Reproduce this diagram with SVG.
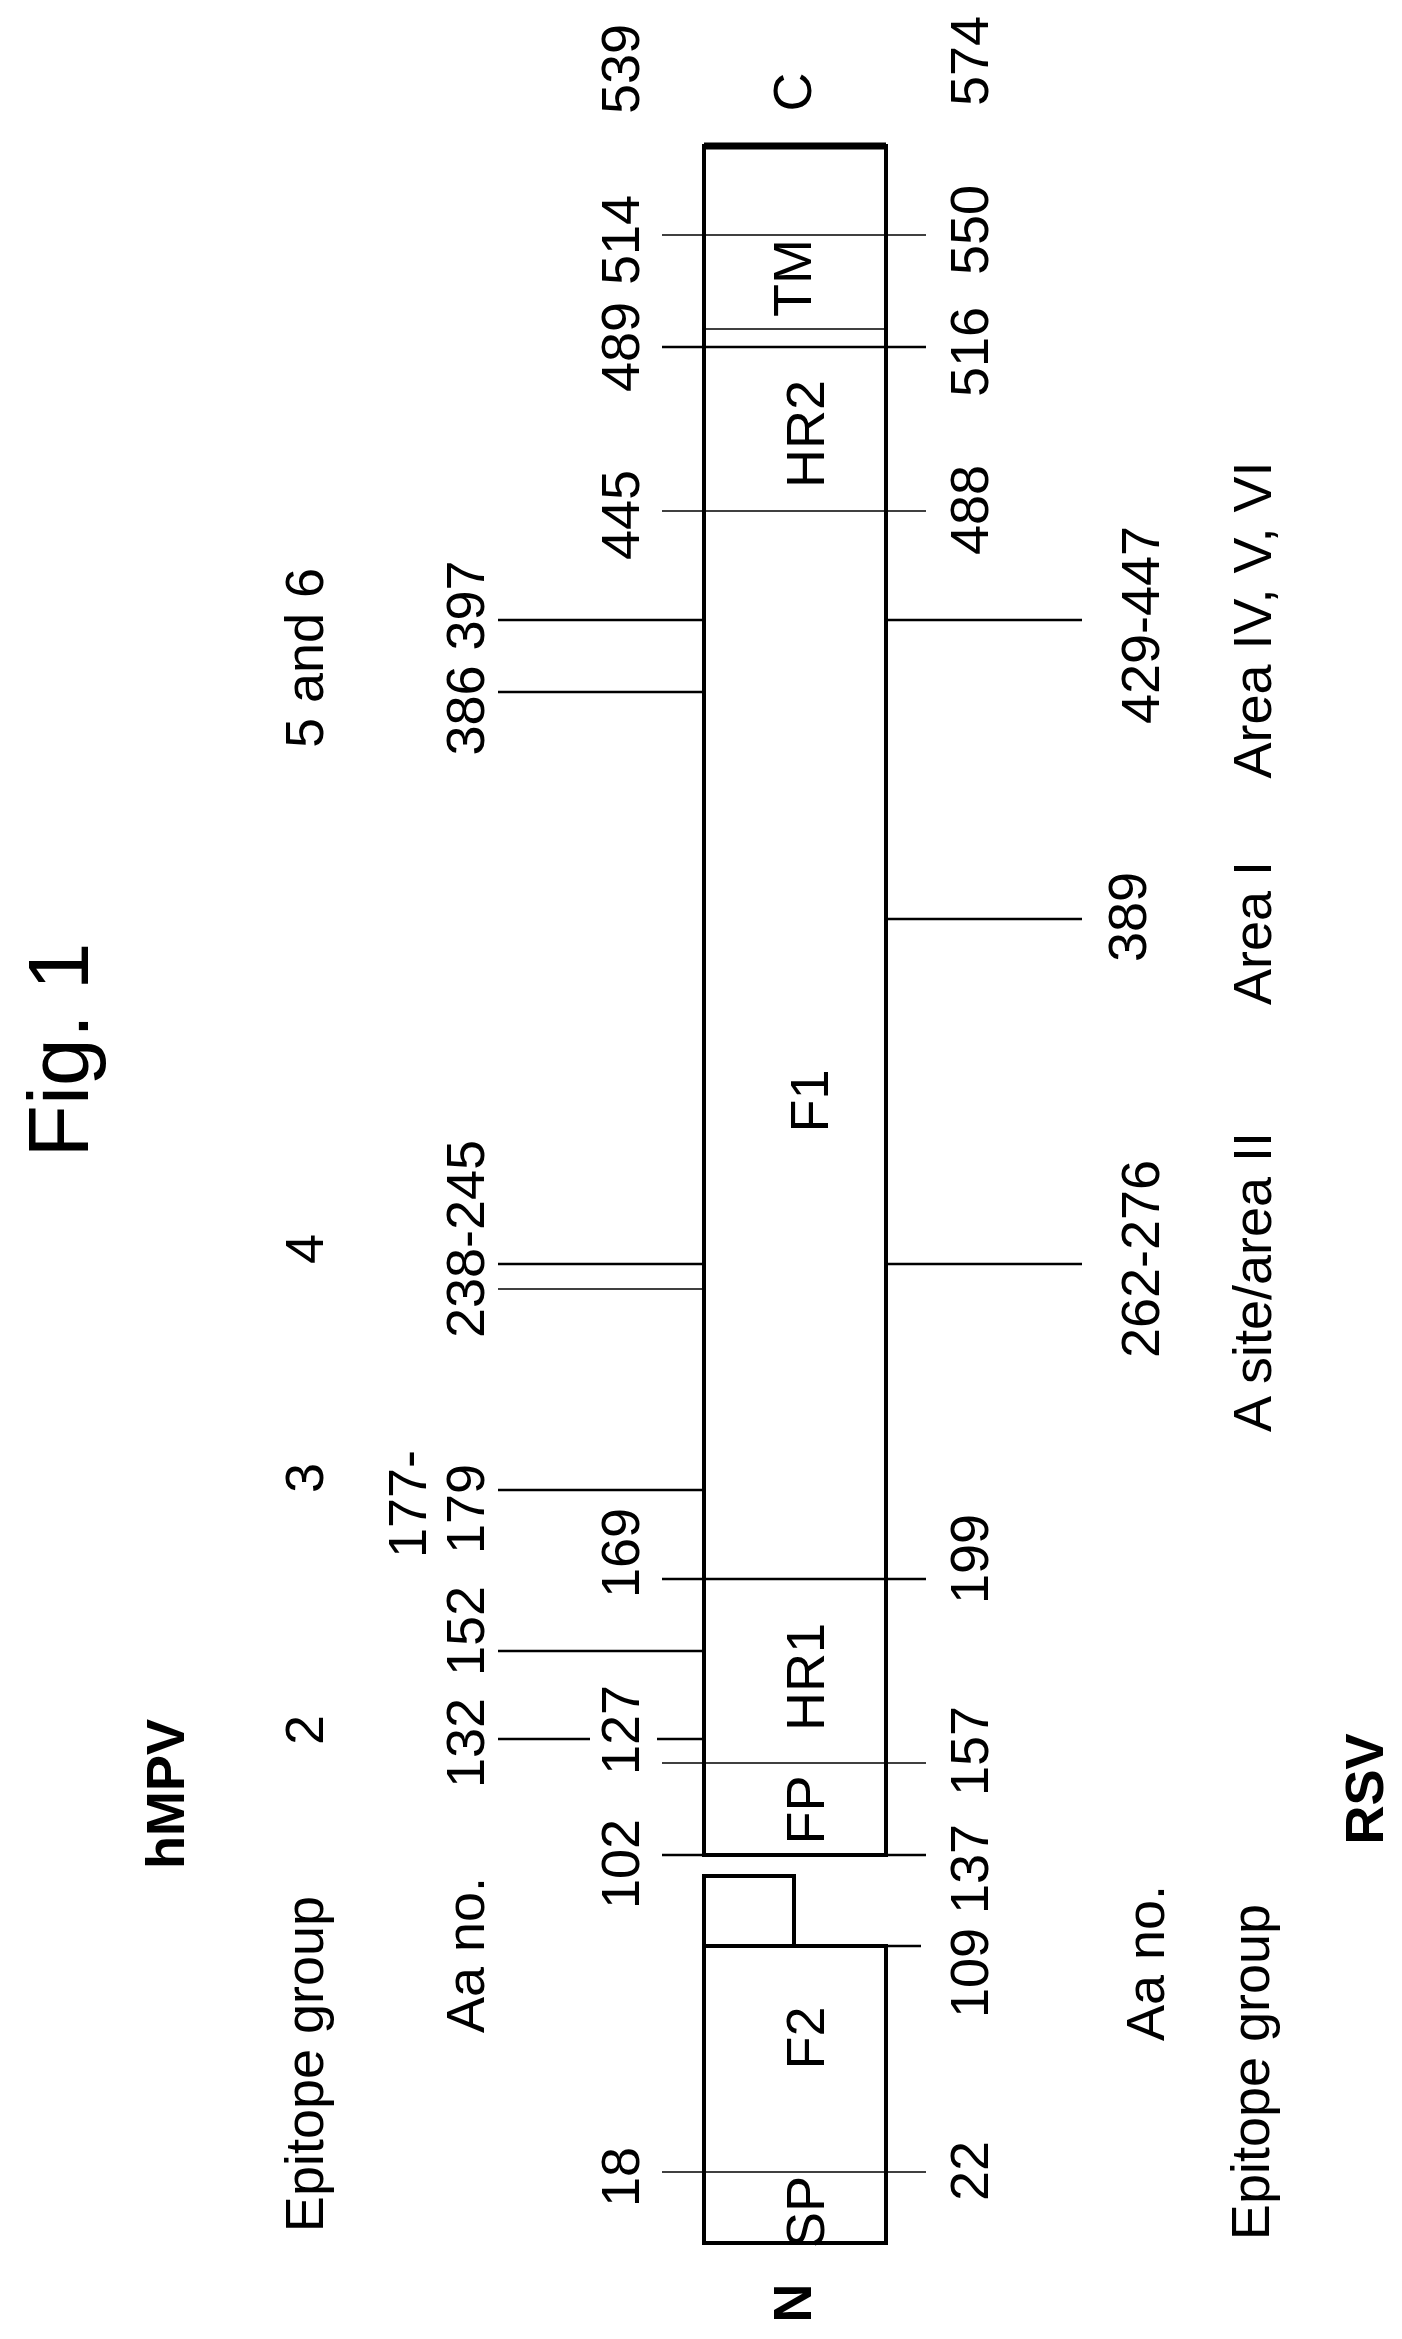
<svg xmlns="http://www.w3.org/2000/svg" width="1402" height="2339" viewBox="0 0 1402 2339">
<style>
text{font-family:"Liberation Sans",Arial,sans-serif;font-size:54px;text-anchor:middle;dominant-baseline:central;fill:#000}
.b{font-weight:bold}
.box{fill:#fff;stroke:#000;stroke-width:4}
.t{stroke:#000;stroke-width:2.5;fill:none}
.th{stroke:#000;stroke-width:1.5;fill:none}
</style>
<rect width="1402" height="2339" fill="#fff"/>
<g id="protein">
<rect class="box" x="704" y="146" width="182" height="1709"/>
<line x1="704" y1="146" x2="886" y2="146" stroke="#000" stroke-width="7"/>
<rect class="box" x="704" y="1946" width="182" height="297"/>
<rect class="box" x="704" y="1876" width="90" height="70"/>
<line class="th" x1="704" y1="329" x2="886" y2="329"/>
</g>
<g id="connectors">
<line class="th" x1="662" y1="235" x2="926" y2="235"/>
<line class="t" x1="662" y1="347" x2="926" y2="347"/>
<line class="th" x1="662" y1="511" x2="926" y2="511"/>
<line class="t" x1="498" y1="620" x2="704" y2="620"/>
<line class="t" x1="886" y1="620" x2="1082" y2="620"/>
<line class="t" x1="498" y1="692" x2="704" y2="692"/>
<line class="t" x1="886" y1="919" x2="1082" y2="919"/>
<line class="t" x1="498" y1="1264" x2="704" y2="1264"/>
<line class="th" x1="498" y1="1289" x2="704" y2="1289"/>
<line class="t" x1="886" y1="1264" x2="1082" y2="1264"/>
<line class="t" x1="498" y1="1490" x2="704" y2="1490"/>
<line class="t" x1="662" y1="1579" x2="926" y2="1579"/>
<line class="t" x1="498" y1="1651" x2="704" y2="1651"/>
<line class="t" x1="498" y1="1739" x2="590" y2="1739"/>
<line class="t" x1="657" y1="1739" x2="704" y2="1739"/>
<line class="th" x1="662" y1="1763" x2="926" y2="1763"/>
<line class="t" x1="662" y1="1855" x2="926" y2="1855"/>
<line class="t" x1="886" y1="1946" x2="921" y2="1946"/>
<line class="th" x1="662" y1="2172" x2="926" y2="2172"/>
</g>
<g id="labels">
<text transform="translate(58,1050) rotate(-90)" style="font-size:86px">Fig. 1</text>
<text class="b" transform="translate(165,1794) rotate(-90)">hMPV</text>
<text class="b" transform="translate(1364,1789) rotate(-90)">RSV</text>
<text transform="translate(304,2064) rotate(-90)">Epitope group</text>
<text transform="translate(465,1955) rotate(-90)">Aa no.</text>
<text transform="translate(1145,1963) rotate(-90)">Aa no.</text>
<text transform="translate(1250,2072) rotate(-90)">Epitope group</text>
<text transform="translate(792,2303) rotate(-90)" class="b">N</text>
<text transform="translate(792,92) rotate(-90)">C</text>
<text transform="translate(620,69) rotate(-90)">539</text>
<text transform="translate(969,61) rotate(-90)">574</text>
<text transform="translate(620,240) rotate(-90)">514</text>
<text transform="translate(969,230) rotate(-90)">550</text>
<text transform="translate(792,278) rotate(-90)">TM</text>
<text transform="translate(620,347) rotate(-90)">489</text>
<text transform="translate(969,352) rotate(-90)">516</text>
<text transform="translate(805,434) rotate(-90)">HR2</text>
<text transform="translate(620,515) rotate(-90)">445</text>
<text transform="translate(969,510) rotate(-90)">488</text>
<text transform="translate(304,658) rotate(-90)">5 and 6</text>
<text transform="translate(465,658) rotate(-90)">386 397</text>
<text transform="translate(1140,625) rotate(-90)">429-447</text>
<text transform="translate(1252,620) rotate(-90)">Area IV, V, VI</text>
<text transform="translate(1127,917) rotate(-90)">389</text>
<text transform="translate(1252,933) rotate(-90)">Area I</text>
<text transform="translate(809,1101) rotate(-90)">F1</text>
<text transform="translate(304,1249) rotate(-90)">4</text>
<text transform="translate(465,1239) rotate(-90)">238-245</text>
<text transform="translate(1140,1259) rotate(-90)">262-276</text>
<text transform="translate(1252,1282) rotate(-90)">A site/area II</text>
<text transform="translate(304,1478) rotate(-90)">3</text>
<text transform="translate(407,1504) rotate(-90)">177-</text>
<text transform="translate(465,1509) rotate(-90)">179</text>
<text transform="translate(620,1553) rotate(-90)">169</text>
<text transform="translate(969,1559) rotate(-90)">199</text>
<text transform="translate(465,1631) rotate(-90)">152</text>
<text transform="translate(805,1677) rotate(-90)">HR1</text>
<text transform="translate(304,1730) rotate(-90)">2</text>
<text transform="translate(465,1743) rotate(-90)">132</text>
<text transform="translate(620,1730) rotate(-90)">127</text>
<text transform="translate(969,1751) rotate(-90)">157</text>
<text transform="translate(805,1810) rotate(-90)">FP</text>
<text transform="translate(620,1864) rotate(-90)">102</text>
<text transform="translate(969,1869) rotate(-90)">137</text>
<text transform="translate(969,1973) rotate(-90)">109</text>
<text transform="translate(805,2038) rotate(-90)">F2</text>
<text transform="translate(620,2177) rotate(-90)">18</text>
<text transform="translate(969,2171) rotate(-90)">22</text>
<text transform="translate(805,2212) rotate(-90)">SP</text>
</g>
</svg>
